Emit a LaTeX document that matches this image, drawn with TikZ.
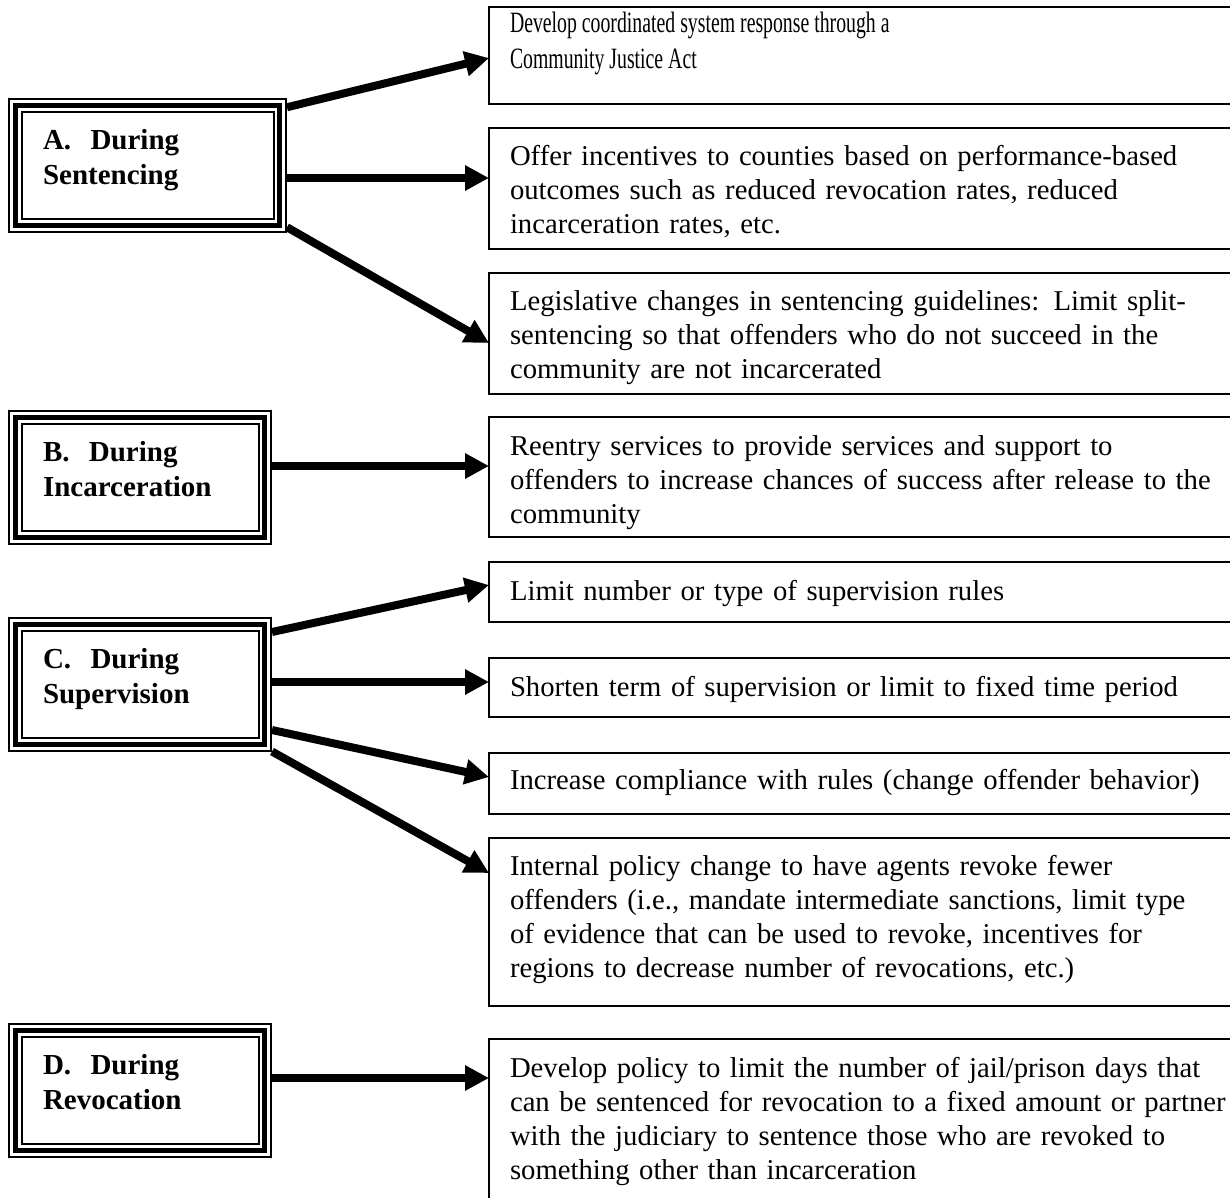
\documentclass[tikz,border=0pt]{standalone}
\usepackage{fontspec}
\setmainfont{Liberation Serif}
\newfontfamily\narrowserif[FakeStretch=0.67]{Liberation Serif}
\usetikzlibrary{arrows.meta}

\begin{document}
\begin{tikzpicture}
        [x=1pt, y=-1pt,
         stage/.style={draw, line width=5pt, outer sep=7.25pt, anchor=north west,
           preaction={draw, line width=14.5pt}, preaction={draw, white, line width=10.5pt},
           align=left, text width=194pt, inner xsep=27.75pt, inner ysep=0pt,
           text height=44pt, text depth=76pt, font=\bfseries\fontsize{29}{35}\selectfont},
         action/.style={draw, line width=1.6pt, outer sep=0pt, anchor=north west,
           align=left, text width=800pt, inner xsep=21pt, inner ysep=0pt,
           font=\fontsize{28.7}{34}\selectfont},
         push/.style={line width=8pt, -{Triangle[length=24pt,width=24pt]}}]

        \useasboundingbox (0, 0) rectangle (1230, 1197);
        \clip (0, 0) rectangle (1230, 1197);

        \node[stage, text width=209pt] (sA) at (8, 98) {A.\ \ During\\Sentencing};
        \node[stage] (sB) at (8, 410) {B.\ \ During\\Incarceration};
        \node[stage] (sC) at (8, 617) {C.\ \ During\\Supervision};
        \node[stage] (sD) at (8, 1023) {D.\ \ During\\Revocation};

        \node[action, text height=25pt, text depth=72pt, font=\narrowserif\fontsize{29.5}{36}\selectfont] (a1) at (489, 7) {\spaceskip=5pt\relax Develop coordinated system response through a\\Community Justice Act};
        \node[action, text height=37pt, text depth=84pt] (a2) at (489, 128) {Offer incentives to counties based on performance-based\\outcomes such as reduced revocation rates, reduced\\incarceration rates, etc.};
        \node[action, text height=37pt, text depth=84pt] (a3) at (489, 273) {Legislative changes in sentencing guidelines: Limit split-\\sentencing so that offenders who do not succeed in the\\community are not incarcerated};
        \node[action, text height=38pt, text depth=82pt] (a4) at (489, 417) {Reentry services to provide services and support to\\offenders to increase chances of success after release to the\\community};
        \node[action, text height=38pt, text depth=22pt] (a5) at (489, 562) {Limit number or type of supervision rules};
        \node[action, text height=38pt, text depth=21pt] (a6) at (489, 658) {Shorten term of supervision or limit to fixed time period};
        \node[action, text height=36pt, text depth=25pt] (a7) at (489, 753) {Increase compliance with rules (change offender behavior)};
        \node[action, text height=37pt, text depth=131pt] (a8) at (489, 838) {Internal policy change to have agents revoke fewer\\offenders (i.e., mandate intermediate sanctions, limit type\\of evidence that can be used to revoke, incentives for\\regions to decrease number of revocations, etc.)};
        \node[action, text height=38pt, text depth=170pt] (a9) at (489, 1039) {Develop policy to limit the number of jail/prison days that\\can be sentenced for revocation to a fixed amount or partner\\with the judiciary to sentence those who are revoked to\\something other than incarceration};

        \draw[push] ([yshift=58]sA.east) -- ([yshift=-2.5]a1.west);
        \draw[push] ([yshift=-12.75]sA.east) -- ([yshift=10.5]a2.west);
        \draw[push] ([yshift=-62]sA.east) -- ([yshift=-9.5]a3.west);
        \draw[push] ([yshift=11.25]sB.east) -- ([yshift=11]a4.west);
        \draw[push] ([yshift=52.25]sC.east) -- ([yshift=7]a5.west);
        \draw[push] ([yshift=2.25]sC.east) -- ([yshift=5.5]a6.west);
        \draw[push] ([yshift=-45.75]sC.east) -- ([yshift=6.5]a7.west);
        \draw[push] (sC.south east) -- ([yshift=49]a8.west);
        \draw[push] ([yshift=12.25]sD.east) -- ([yshift=65]a9.west);
      \end{tikzpicture}
\end{document}
